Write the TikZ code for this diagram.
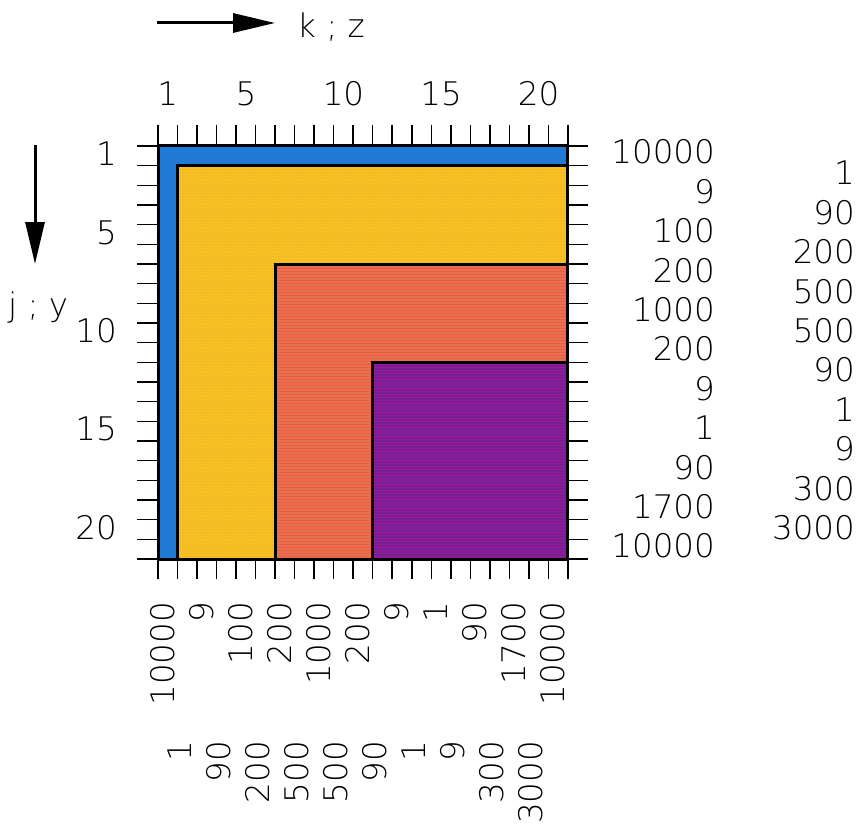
\documentclass[tikz,border=0pt]{standalone}
\usepackage{fontspec}
\IfFontExistsTF{DejaVu Sans ExtraLight}
  {\setmainfont{DejaVu Sans ExtraLight}\newcommand\lblsize{\fontsize{32.5}{38}\selectfont}}
  {\setmainfont{Liberation Sans}\newcommand\lblsize{\fontsize{36}{40}\selectfont}}
\usetikzlibrary{arrows.meta,patterns}
\definecolor{cblue}{RGB}{30,122,212}
\definecolor{cyellow}{RGB}{246,194,34}
\definecolor{corange}{RGB}{232,114,80}
\definecolor{cpurple}{RGB}{120,32,140}
\newcommand\GX[1]{158+19.52*(#1)}
\newcommand\GY[1]{146+19.67*(#1)}
\begin{document}
\begin{tikzpicture}[x=1pt,y=-1pt,
  lbl/.style={inner sep=0pt,font=\lblsize},
  tickline/.style={line width=1.5pt},
  edge/.style={line width=3pt},
  arr/.style={line width=3pt,-{Triangle[length=42pt,width=19pt]}}]
\useasboundingbox[fill=white] (0,0) rectangle (857,824);
% regions
\fill[cblue] ({\GX{0}},{\GY{0}}) rectangle ({\GX{21}},{\GY{21}});
\fill[cyellow] ({\GX{1}},{\GY{1}}) rectangle ({\GX{21}},{\GY{21}});
\fill[pattern=dots,pattern color=corange!70!cyellow] ({\GX{1}},{\GY{1}}) rectangle ({\GX{21}},{\GY{21}});
\fill[corange] ({\GX{6}},{\GY{6}}) rectangle ({\GX{21}},{\GY{21}});
\fill[pattern=horizontal lines,pattern color=corange!80!red] ({\GX{6}},{\GY{6}}) rectangle ({\GX{21}},{\GY{21}});
\fill[cpurple] ({\GX{11}},{\GY{11}}) rectangle ({\GX{21}},{\GY{21}});
\fill[pattern=horizontal lines,pattern color=cpurple!75!magenta] ({\GX{11}},{\GY{11}}) rectangle ({\GX{21}},{\GY{21}});
\draw[edge] ({\GX{1}},{\GY{1}}) rectangle ({\GX{21}},{\GY{21}});
\draw[edge] ({\GX{6}},{\GY{6}}) rectangle ({\GX{21}},{\GY{21}});
\draw[edge] ({\GX{11}},{\GY{11}}) rectangle ({\GX{21}},{\GY{21}});
\draw[edge] ({\GX{0}},{\GY{0}}) rectangle ({\GX{21}},{\GY{21}});
% ticks
\foreach \i in {0,...,21} {
  \draw[tickline] ({\GX{\i}},125) -- ({\GX{\i}},{\GY{0}});
  \draw[tickline] ({\GX{\i}},{\GY{21}}) -- ({\GX{\i}},{\GY{21}+20});
  \draw[tickline] (137,{\GY{\i}}) -- ({\GX{0}},{\GY{\i}});
  \draw[tickline] ({\GX{21}},{\GY{\i}}) -- ({\GX{21}+20},{\GY{\i}});
}
% axis labels
\foreach \n in {1,5,10,15,20} {
  \node[lbl] (t\n) at ({\GX{\n-0.5}},93.5) {\n};
  \node[lbl,anchor=east] (l\n) at (117,{\GY{\n-0.5}-2}) {\n};
}
\foreach \v [count=\k from 0] in {10000,9,100,200,1000,200,9,1,90,1700,10000} {
  \node[lbl,anchor=east] (ra\k) at (715,{152+39.4*\k}) {\v};
  \node[lbl,anchor=east,rotate=90] (ba\k) at ({163+39*\k},602) {\v};
}
\foreach \v [count=\k from 0] in {1,90,200,500,500,90,1,9,300,3000} {
  \node[lbl,anchor=east] (rb\k) at (855,{173+39.4*\k}) {\v};
  \node[lbl,anchor=east,rotate=90] (bb\k) at ({180+39*\k},741) {\v};
}
% direction arrows
\coordinate (ka) at (157,23);
\coordinate (kb) at (275,23);
\draw[arr] (ka) -- (kb);
\node[lbl,anchor=base west] (kz) at (297,38) {k ; z};
\coordinate (ja) at (35,145);
\coordinate (jb) at (35,264);
\draw[arr] (ja) -- (jb);
\node[lbl,anchor=base west] (jy) at (8,316) {j ; y};
\end{tikzpicture}
\end{document}
